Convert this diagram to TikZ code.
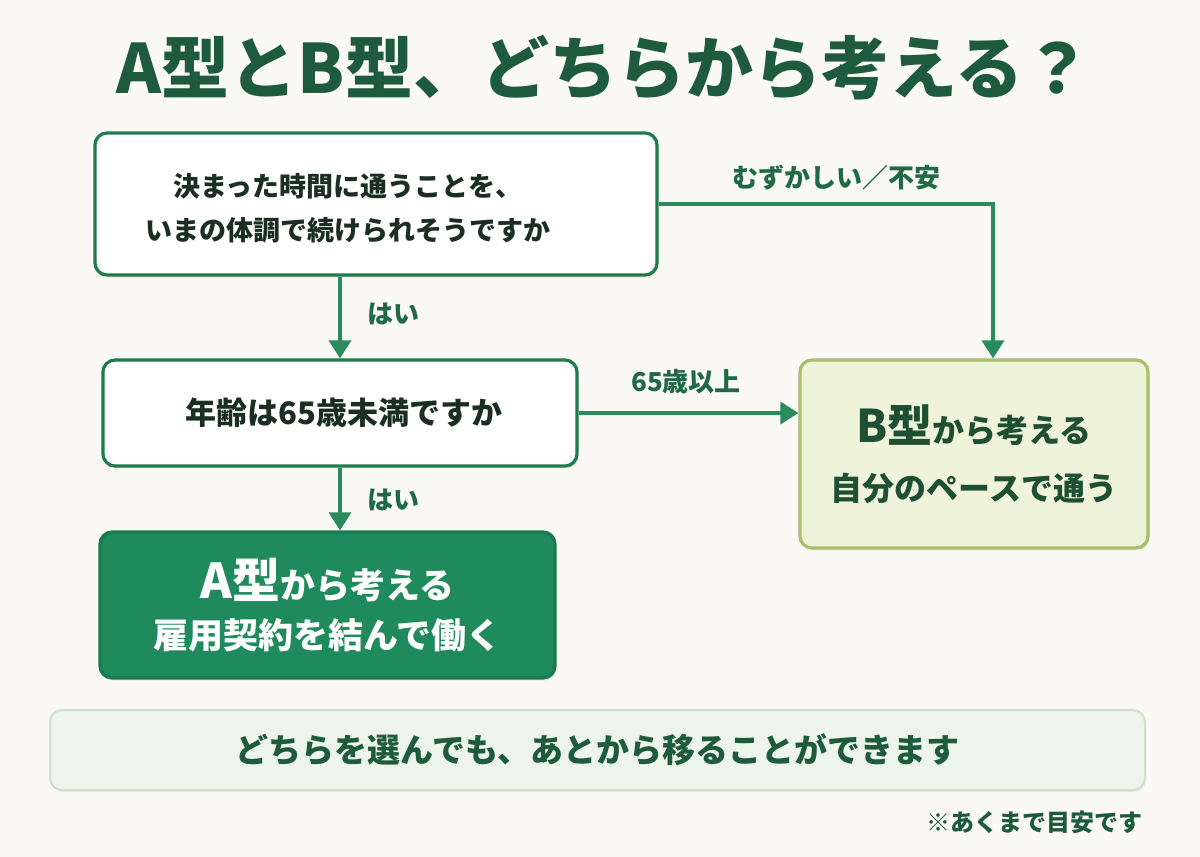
\documentclass[tikz,border=0pt]{standalone}
\usepackage{fontspec}
\setmainfont{Noto Sans CJK JP}
\usetikzlibrary{arrows.meta,shadows}
\definecolor{bg}{HTML}{FAF9F5}
\definecolor{titlec}{HTML}{1D5B3C}
\definecolor{darktext}{HTML}{1A2E22}
\definecolor{qborder}{HTML}{1F7A4C}
\definecolor{arrowc}{HTML}{2A8C5C}
\definecolor{labelc}{HTML}{1F6A45}
\definecolor{afill}{HTML}{1F8A5B}
\definecolor{aborder}{HTML}{1A7A50}
\definecolor{bfill}{HTML}{EEF3DA}
\definecolor{bborder}{HTML}{A9BF6C}
\definecolor{btext}{HTML}{1F4F33}
\definecolor{notefill}{HTML}{EDF4EA}
\definecolor{noteborder}{HTML}{CFE0C8}
\tikzset{
  boxbase/.style={rounded corners=12pt, line width=3.2pt, align=center, inner sep=0pt,
    drop shadow={shadow xshift=1.5pt, shadow yshift=-2.5pt, opacity=0.12}},
  qbox/.style={boxbase, draw=qborder, fill=white},
  qtext/.style={text=darktext, align=center, inner sep=0pt},
  abox/.style={boxbase, draw=aborder, fill=afill, text=white},
  bbox/.style={boxbase, draw=bborder, fill=bfill, text=btext},
  notebox/.style={rounded corners=12pt, line width=2pt, draw=noteborder, fill=notefill,
    text=titlec, font=\bfseries\fontsize{33}{38}\selectfont,
    drop shadow={shadow xshift=1pt, shadow yshift=-2pt, opacity=0.10}},
  arr/.style={draw=arrowc, line width=3.6pt, -{Triangle[width=22pt,length=18pt]}},
  lbl/.style={text=labelc, font=\bfseries\fontsize{26}{30}\selectfont, inner sep=0pt},
}
\begin{document}
\begin{tikzpicture}[x=1pt,y=-1pt]
\fill[bg] (0,0) rectangle (1200,857);
\useasboundingbox (0,0) rectangle (1200,857);

\node[text=titlec, font=\bfseries\fontsize{68}{74}\selectfont, inner sep=0pt] (title) at (604,68) {A型とB型、どちらから考える？};

\node[qbox, minimum width=562pt, minimum height=142pt] (q1) at (376,204) {};
\node[qtext, font=\bfseries\fontsize{27}{44}\selectfont] (q1t) at (348,208)
  {決まった時間に通うことを、\\いまの体調で続けられそうですか};
\node[qbox, minimum width=474pt, minimum height=106pt] (q2) at (340,413) {};
\node[qtext, font=\bfseries\fontsize{31}{36}\selectfont] (q2t) at (344,413)
  {年齢は65歳未満ですか};
\node[bbox, minimum width=348pt, minimum height=188pt] (bres) at (974,454)
  {{\bfseries\fontsize{45}{48}\selectfont B型}{\bfseries\fontsize{32}{36}\selectfont から考える}\\[26pt]
   {\bfseries\fontsize{32}{36}\selectfont 自分のペースで通う}};
\node[abox, minimum width=455pt, minimum height=146pt] (ares) at (327.5,605)
  {{\bfseries\fontsize{48}{50}\selectfont A型}{\bfseries\fontsize{35}{38}\selectfont から考える}\\[16pt]
   {\bfseries\fontsize{35}{38}\selectfont 雇用契約を結んで働く}};
\node[notebox, minimum width=1095pt, minimum height=80pt] (note) at (597.5,750)
  {どちらを選んでも、あとから移ることができます};
\node[text=titlec, font=\bfseries\fontsize{24}{27}\selectfont, anchor=east, inner sep=0pt] (foot) at (1143,822)
  {※あくまで目安です};

\coordinate (turn) at (993,204);
\draw[arr] (q2.north |- q1.south) -- (q2.north);
\draw[arr] (q1.east) -- (turn) -- (turn |- bres.north);
\draw[arr] (q2.east) -- (q2.east -| bres.west);
\draw[arr] (q2.south) -- (q2.south |- ares.north);

\node[lbl] (yes1) at (393,314) {はい};
\node[lbl] (yes2) at (393,500) {はい};
\node[lbl] (hard) at (836,178) {むずかしい／不安};
\node[lbl] (over) at (686,382) {65歳以上};
\end{tikzpicture}
\end{document}
